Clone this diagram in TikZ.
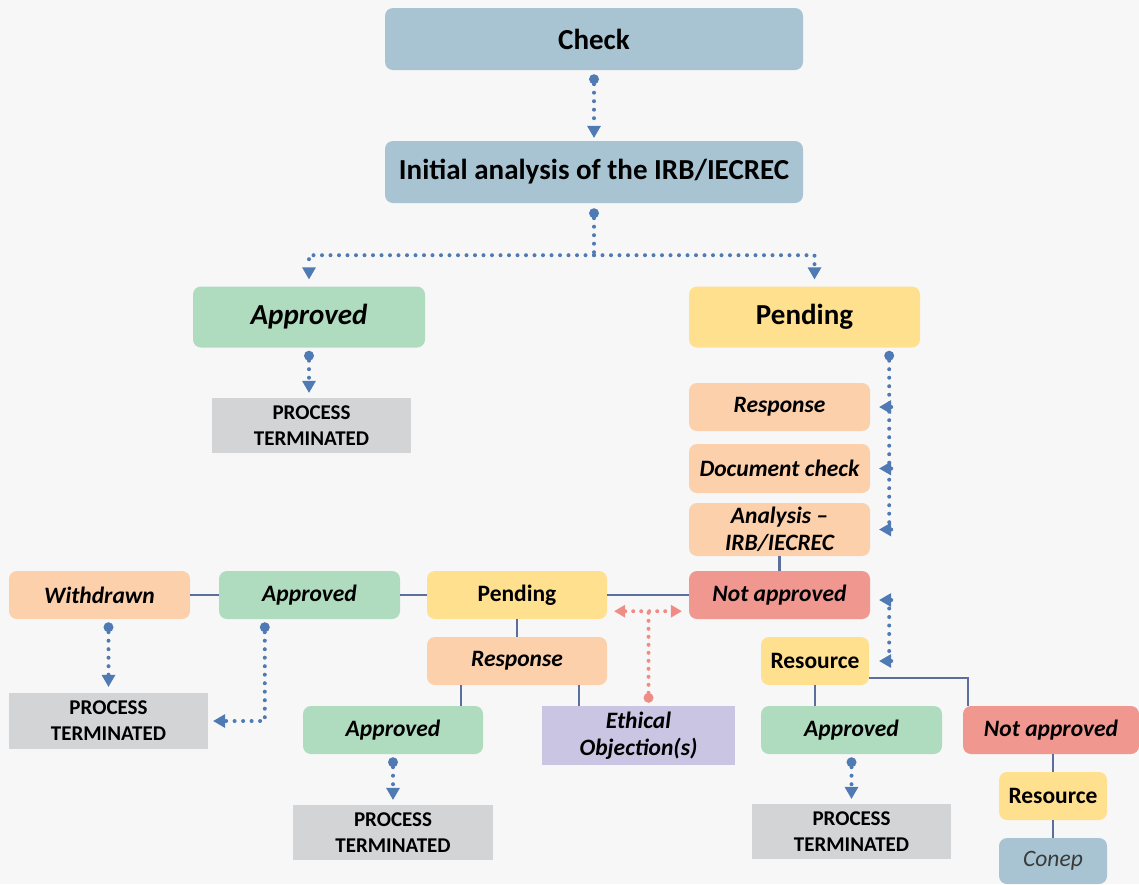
\documentclass[tikz,border=0pt]{standalone}
\usepackage{fontspec}
\setmainfont{Carlito}
\usepackage{tikz}
\usetikzlibrary{arrows.meta}
\definecolor{boxblue}{HTML}{A8C4D2}
\definecolor{boxgreen}{HTML}{AFDCBF}
\definecolor{boxyellow}{HTML}{FFE08E}
\definecolor{boxpeach}{HTML}{FCD0AA}
\definecolor{boxred}{HTML}{F0978F}
\definecolor{boxgray}{HTML}{D3D4D6}
\definecolor{boxlilac}{HTML}{C9C5E2}
\definecolor{linkblue}{HTML}{5C6E9C}
\definecolor{dotblue}{HTML}{4F7AB3}
\definecolor{dotred}{HTML}{F08C86}
\definecolor{bggray}{HTML}{F7F7F7}
\definecolor{conepgray}{HTML}{3A3A3A}

\begin{document}
\begin{tikzpicture}[x=1pt,y=-1pt,inner sep=0pt,align=center,
                    blob/.tip={Circle[length=10pt,line width=0pt]},
                    tri/.tip={Triangle[width=14pt,length=12pt,line width=0pt]},
                    rtri/.tip={Triangle[width=13pt,length=11pt,line width=0pt]}]
  \tikzstyle{bigbox}=[rounded corners=8pt,minimum width=418pt,minimum height=62pt,
                      font=\fontsize{29}{34}\selectfont\bfseries]
  \tikzstyle{bigit}=[bigbox,font=\fontsize{29}{34}\selectfont\bfseries\itshape]
  \tikzstyle{midbox}=[rounded corners=8pt,minimum width=181pt,minimum height=48pt,
                      font=\fontsize{23.5}{28}\selectfont\bfseries]
  \tikzstyle{midit}=[midbox,font=\fontsize{23.5}{27.5}\selectfont\bfseries\itshape]
  \tikzstyle{endbox}=[fill=boxgray,minimum width=199pt,minimum height=55pt,
                      font=\fontsize{21}{26}\selectfont\bfseries]
  \tikzstyle{link}=[draw=linkblue,line width=2.5pt]
  \tikzstyle{dotflow}=[draw=dotblue,line width=4pt,line cap=round,
                       dash pattern=on 0pt off 8.5pt]
  \tikzstyle{redflow}=[draw=dotred,line width=4pt,line cap=round,
                       dash pattern=on 0pt off 8pt]

  \path[use as bounding box,fill=bggray] (0,0) rectangle (1139,884);

  \node[bigbox,fill=boxblue] (check) at (594,39) {Check};
  \node[bigbox,fill=boxblue] (initial) at (594,172) {Initial analysis of the IRB/IECREC};
  \node[bigit,fill=boxgreen,minimum width=232pt,minimum height=61pt] (approvedA) at (309,317) {Approved};
  \node[bigbox,fill=boxyellow,minimum width=231pt,minimum height=61pt] (pendingA) at (804.5,317) {Pending};
  \node[endbox] (endA) at (311.5,425.5) {PROCESS\\TERMINATED};

  \node[midit,fill=boxpeach] (responseA) at (779.5,407) {Response};
  \node[midit,fill=boxpeach,minimum height=49pt] (docCheck) at (779.5,468.5) {Document check};
  \node[midit,fill=boxpeach,minimum height=53pt] (analysis) at (779.5,529.5) {Analysis --\\IRB/IECREC};
  \node[midit,fill=boxred] (notApprovedA) at (779.5,595) {Not approved};

  \node[midbox,fill=boxyellow,minimum width=180pt] (pendingB) at (517,595) {Pending};
  \node[midit,fill=boxgreen] (approvedB) at (309.5,595) {Approved};
  \node[midit,fill=boxpeach] (withdrawn) at (99.5,595) {Withdrawn};
  \node[endbox,minimum height=56pt] (endB) at (108.5,721) {PROCESS\\TERMINATED};

  \node[midit,fill=boxpeach,minimum width=180pt] (responseB) at (517,661) {Response};
  \node[midit,fill=boxgreen,minimum width=180pt] (approvedC) at (393,730) {Approved};
  \node[midit,rounded corners=0pt,fill=boxlilac,minimum width=193pt,minimum height=59pt] (ethical) at (638.5,735.5) {Ethical\\Objection(s)};
  \node[endbox,minimum width=200pt] (endC) at (393,832.5) {PROCESS\\TERMINATED};

  \node[midbox,fill=boxyellow,minimum width=108pt] (resourceA) at (815,661) {Resource};
  \node[midit,fill=boxgreen] (approvedD) at (851.5,730) {Approved};
  \node[midit,fill=boxred,minimum width=176pt] (notApprovedB) at (1051,730) {Not approved};
  \node[endbox] (endD) at (851.5,831.5) {PROCESS\\TERMINATED};
  \node[midbox,fill=boxyellow,minimum width=108pt] (resourceB) at (1053,796) {Resource};
  \node[midbox,fill=boxblue,minimum width=108pt,minimum height=46pt,text=conepgray] (conep) at (1053,861) {\mdseries\itshape Conep};

  \draw[dotflow,blob-tri,shorten <=4pt,shorten >=3pt] (check) -- (initial);
  \draw[dotflow,blob-,shorten <=5pt] (initial.south) -- ++(0,52) coordinate (split);
  \draw[dotflow,-tri,shorten >=7pt] (split) -| (approvedA.north);
  \draw[dotflow,-tri,shorten >=7pt] (split) -| ([xshift=10pt]pendingA.north);
  \draw[dotflow,blob-tri,shorten <=3pt,shorten >=5pt] (approvedA.south) -- (approvedA.south |- endA.north);

  \draw[dotflow,blob-,shorten <=3pt] ([xshift=-31pt]pendingA.south east) -- ([xshift=19pt]analysis.east);
  \draw[dotflow,-tri] ([xshift=21pt]responseA.east) -- ([xshift=9pt]responseA.east);
  \draw[dotflow,-tri] ([xshift=21pt]docCheck.east) -- ([xshift=9pt]docCheck.east);
  \draw[dotflow,-tri] ([xshift=21pt]analysis.east) -- ([xshift=9pt]analysis.east);

  \draw[dotflow] ([xshift=19pt,yshift=-5pt]notApprovedA.east) -- ([xshift=20pt]resourceA.east);
  \draw[dotflow,-tri] ([xshift=21pt,yshift=-5pt]notApprovedA.east) -- ([xshift=9pt,yshift=-5pt]notApprovedA.east);
  \draw[dotflow,-tri] ([xshift=22pt]resourceA.east) -- ([xshift=10pt]resourceA.east);

  \draw[link] (analysis) -- (notApprovedA);
  \draw[link] (withdrawn) -- (approvedB);
  \draw[link] (approvedB) -- (pendingB);
  \draw[link] (pendingB) -- (notApprovedA);
  \draw[link] (pendingB) -- (responseB);
  \draw[link] ([xshift=34pt]responseB.south west) -- ++(0,21);
  \draw[link] ([xshift=152pt]responseB.south west) -- ++(0,21);

  \draw[dotflow,blob-tri,shorten <=3pt,shorten >=6pt] (withdrawn.south -| endB) -- (endB);
  \draw[dotflow,blob-tri,shorten <=3pt,shorten >=5pt] ([xshift=46pt]approvedB.south west) |- (endB.east);
  \draw[dotflow,blob-tri,shorten <=3pt,shorten >=5pt] (approvedC) -- (endC);

  \draw[redflow,blob-,shorten <=3pt] ([xshift=10pt]ethical.north) -- ++(0,-95);
  \draw[redflow,rtri-rtri,shorten <=7pt,shorten >=7pt] ([yshift=8pt]pendingB.south east) -- ([yshift=8pt]notApprovedA.south west);

  \draw[link] (resourceA) -- (resourceA |- approvedD.north);
  \draw[link] ([yshift=7pt]resourceA.south east) -| ([xshift=5pt]notApprovedB.north west);
  \draw[dotflow,blob-tri,shorten <=3pt,shorten >=5pt] (approvedD) -- (endD);
  \draw[link] (notApprovedB.south -| resourceB) -- (resourceB);
  \draw[link] (resourceB) -- (conep);
\end{tikzpicture}
\end{document}
